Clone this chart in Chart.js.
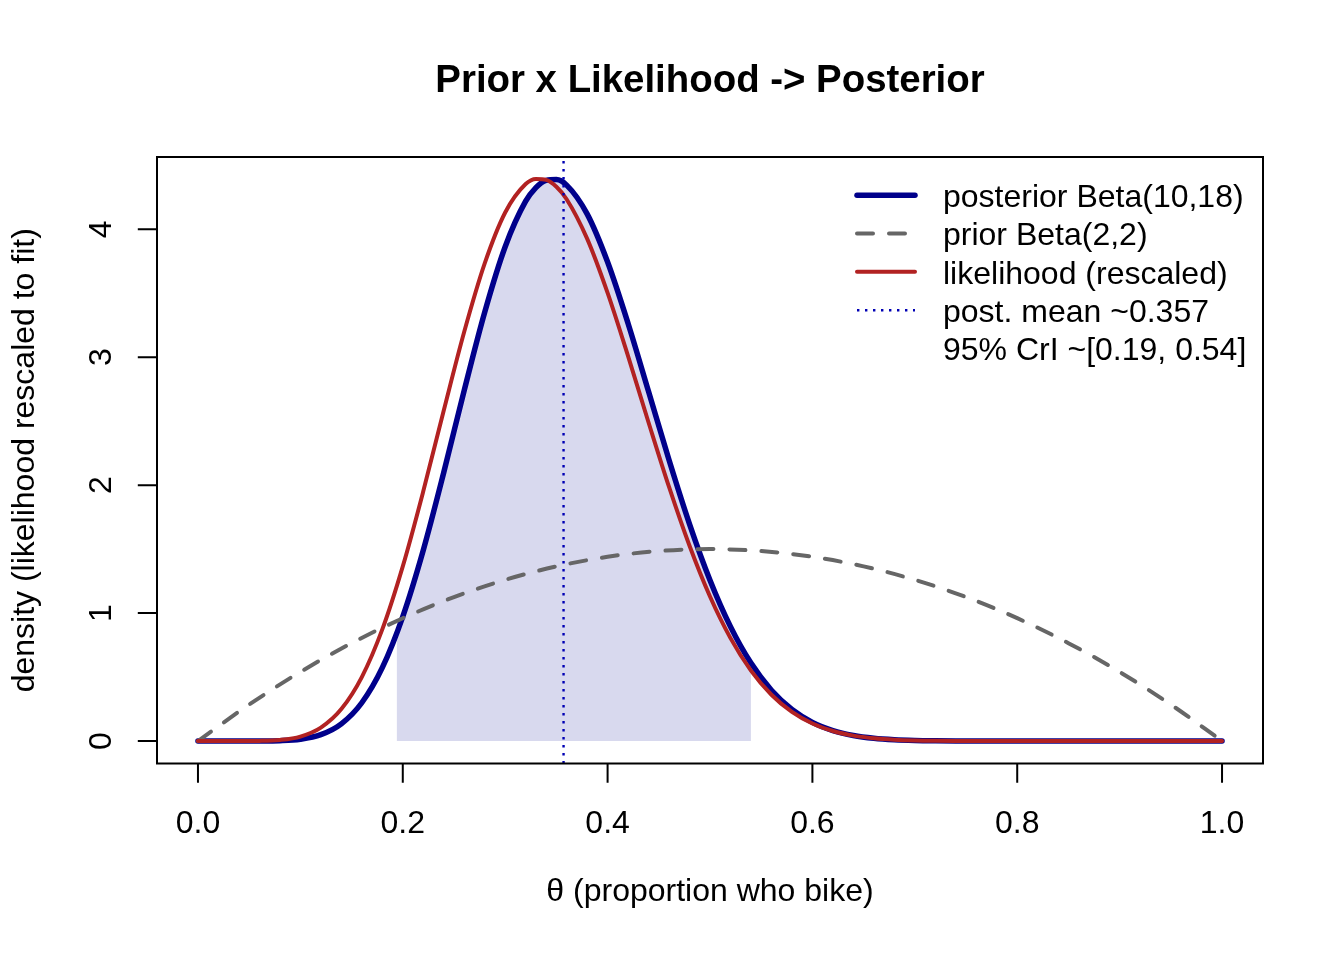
<!DOCTYPE html>
<html><head><meta charset="utf-8">
<script src="https://cdn.jsdelivr.net/npm/chart.js@4/dist/chart.umd.min.js"></script>
<style>html,body{margin:0;padding:0;background:#fff;} canvas{display:block;}</style>
</head><body>
<canvas id="c" width="1344" height="960"></canvas>
<script>
// ---------- data ----------
const titleText = "Prior x Likelihood -> Posterior";
const xTitle = "θ (proportion who bike)";
const yTitle = "density (likelihood rescaled to fit)";
const xTicks = [0, 0.2, 0.4, 0.6, 0.8, 1.0];
const xTickLabels = ["0.0", "0.2", "0.4", "0.6", "0.8", "1.0"];
const yTicks = [0, 1, 2, 3, 4];
const yTickLabels = ["0", "1", "2", "3", "4"];

const thetaGrid = [0, 0.02, 0.04, 0.06, 0.08, 0.10, 0.12, 0.14, 0.16, 0.18, 0.20, 0.22, 0.24, 0.26, 0.28, 0.30,
  0.32, 0.33, 0.34, 0.35, 0.36, 0.38, 0.40, 0.42, 0.44, 0.46, 0.48, 0.50, 0.52, 0.54, 0.56, 0.58, 0.60,
  0.62, 0.64, 0.66, 0.68, 0.70, 0.72, 0.74, 0.76, 0.80, 0.85, 0.90, 0.95, 1.0];
const posteriorDensity = [0, 0, 0.00001, 0.0003, 0.0027, 0.0141, 0.0496, 0.1342, 0.2992, 0.5734, 0.9727, 1.4914,
  2.0985, 2.7407, 3.3515, 3.8632, 4.2190, 4.3258, 4.3824, 4.3884, 4.3449, 4.1198, 3.7434, 3.2635, 2.7319,
  2.1964, 1.6959, 1.2572, 0.8940, 0.6090, 0.3968, 0.2467, 0.1461, 0.0821, 0.0435, 0.0217, 0.0101, 0.0044,
  0.0018, 0.0006, 0.0002, 0, 0, 0, 0, 0];
const likelihoodRescaled = [0, 0, 0.0001, 0.0012, 0.0084, 0.0351, 0.1054, 0.2503, 0.5000, 0.8723, 1.3651, 1.9516,
  2.5835, 3.1987, 3.7329, 4.1309, 4.3536, 4.3933, 4.3853, 4.3315, 4.2346, 3.9266, 3.5024, 3.0083, 2.4897,
  1.9855, 1.5257, 1.1292, 0.8043, 0.5505, 0.3616, 0.2274, 0.1367, 0.0782, 0.0424, 0.0218, 0.0105, 0.0047,
  0.0020, 0.0008, 0.0003, 0, 0, 0, 0, 0];

const priorGrid = [0, 0.05, 0.10, 0.15, 0.20, 0.25, 0.30, 0.35, 0.40, 0.45, 0.50, 0.55, 0.60, 0.65, 0.70,
  0.75, 0.80, 0.85, 0.90, 0.95, 1.0];
const priorDensity = [0, 0.285, 0.54, 0.765, 0.96, 1.125, 1.26, 1.365, 1.44, 1.485, 1.5, 1.485, 1.44, 1.365,
  1.26, 1.125, 0.96, 0.765, 0.54, 0.285, 0];

const postMean = 0.357;
const ciLow = 0.194;
const ciHigh = 0.540;
const ciLowDensity = 0.84;

const legendLabels = ["posterior Beta(10,18)", "prior Beta(2,2)", "likelihood (rescaled)",
  "post. mean ~0.357", "95% CrI ~[0.19, 0.54]"];

// ---------- styling ----------
const FONT = '"Liberation Sans", Arial, Helvetica, sans-serif';
const COL_POST = '#00008B', COL_PRIOR = '#666666', COL_LIK = '#B22222', COL_MEAN = '#0000B4';
const COL_SHADE = 'rgb(216,217,238)';
const Y_MIN = -0.1756, Y_MAX = 4.5646;

const pts = (xs, ys) => xs.map((v, i) => ({ x: v, y: ys[i] }));
const shadePts = [{ x: ciLow, y: ciLowDensity }].concat(
  pts(thetaGrid, posteriorDensity).filter(p => p.x > ciLow && p.x <= ciHigh + 1e-9));

const legendStyles = [
  { color: COL_POST, width: 5.5, dash: [], cap: 'round' },
  { color: COL_PRIOR, width: 4, dash: [16, 16], cap: 'round' },
  { color: COL_LIK, width: 4, dash: [], cap: 'round' },
  { color: COL_MEAN, width: 2.4, dash: [2.4, 5.6], cap: 'butt' },
  null
];

const decor = {
  id: 'decor',
  afterDraw(chart) {
    const { ctx, chartArea: a, scales: { x, y } } = chart;
    ctx.save();
    ctx.setLineDash([]);
    ctx.strokeStyle = '#000';
    ctx.lineWidth = 2;
    ctx.lineCap = 'butt';
    ctx.strokeRect(a.left, a.top, a.right - a.left, a.bottom - a.top);
    ctx.beginPath();
    xTicks.forEach(v => { const px = x.getPixelForValue(v); ctx.moveTo(px, a.bottom); ctx.lineTo(px, a.bottom + 19.2); });
    yTicks.forEach(v => { const py = y.getPixelForValue(v); ctx.moveTo(a.left, py); ctx.lineTo(a.left - 19.2, py); });
    ctx.stroke();

    ctx.fillStyle = '#000';
    ctx.font = '32px ' + FONT;
    ctx.textAlign = 'center';
    ctx.textBaseline = 'alphabetic';
    xTicks.forEach((v, i) => ctx.fillText(xTickLabels[i], x.getPixelForValue(v), 833));
    yTicks.forEach((v, i) => {
      ctx.save(); ctx.translate(110.5, y.getPixelForValue(v)); ctx.rotate(-Math.PI / 2);
      ctx.fillText(yTickLabels[i], 0, 0); ctx.restore();
    });
    ctx.fillText(xTitle, (a.left + a.right) / 2, 901);
    ctx.save(); ctx.translate(33.5, (a.top + a.bottom) / 2); ctx.rotate(-Math.PI / 2);
    ctx.fillText(yTitle, 0, 0); ctx.restore();

    ctx.font = 'bold 38.4px ' + FONT;
    ctx.fillText(titleText, (a.left + a.right) / 2, 92);

    // legend (no box)
    ctx.font = '32px ' + FONT;
    ctx.textAlign = 'left';
    legendLabels.forEach((lab, i) => {
      const base = 207 + i * 38.33;
      const st = legendStyles[i];
      if (st) {
        ctx.beginPath();
        ctx.strokeStyle = st.color; ctx.lineWidth = st.width; ctx.setLineDash(st.dash); ctx.lineCap = st.cap;
        ctx.moveTo(857, base - 11.8); ctx.lineTo(915, base - 11.8);
        ctx.stroke();
      }
      ctx.setLineDash([]);
      ctx.fillStyle = '#000';
      ctx.fillText(lab, 943, base);
    });
    ctx.restore();
  }
};

new Chart(document.getElementById('c'), {
  type: 'line',
  data: {
    datasets: [
      { label: 'mean', data: [{ x: postMean, y: Y_MIN }, { x: postMean, y: Y_MAX }], borderColor: COL_MEAN,
        borderWidth: 2.4, borderDash: [2.4, 5.6], borderCapStyle: 'butt', pointRadius: 0, fill: false, order: 0 },
      { label: 'likelihood', data: pts(thetaGrid, likelihoodRescaled), borderColor: COL_LIK, borderWidth: 4,
        borderCapStyle: 'round', borderJoinStyle: 'round', cubicInterpolationMode: 'monotone', pointRadius: 0, fill: false, order: 1 },
      { label: 'prior', data: pts(priorGrid, priorDensity), borderColor: COL_PRIOR, borderWidth: 4, borderDash: [16, 16],
        borderCapStyle: 'round', borderJoinStyle: 'round', cubicInterpolationMode: 'monotone', pointRadius: 0, fill: false, order: 2 },
      { label: 'posterior', data: pts(thetaGrid, posteriorDensity), borderColor: COL_POST, borderWidth: 5.5,
        borderCapStyle: 'round', borderJoinStyle: 'round', cubicInterpolationMode: 'monotone', pointRadius: 0, fill: false, order: 3 },
      { label: 'CrI', data: shadePts, borderColor: 'rgba(0,0,0,0)', borderWidth: 0, backgroundColor: COL_SHADE,
        cubicInterpolationMode: 'monotone', pointRadius: 0, fill: 'origin', order: 4 }
    ]
  },
  options: {
    responsive: false, animation: false, devicePixelRatio: 1,
    layout: { padding: { left: 157, right: 81, top: 157, bottom: 196.5 } },
    scales: {
      x: { type: 'linear', min: -0.04, max: 1.04, display: false },
      y: { type: 'linear', min: Y_MIN, max: Y_MAX, display: false }
    },
    plugins: { legend: { display: false }, title: { display: false }, tooltip: { enabled: false } },
    events: []
  },
  plugins: [decor]
});
</script>
</body></html>
